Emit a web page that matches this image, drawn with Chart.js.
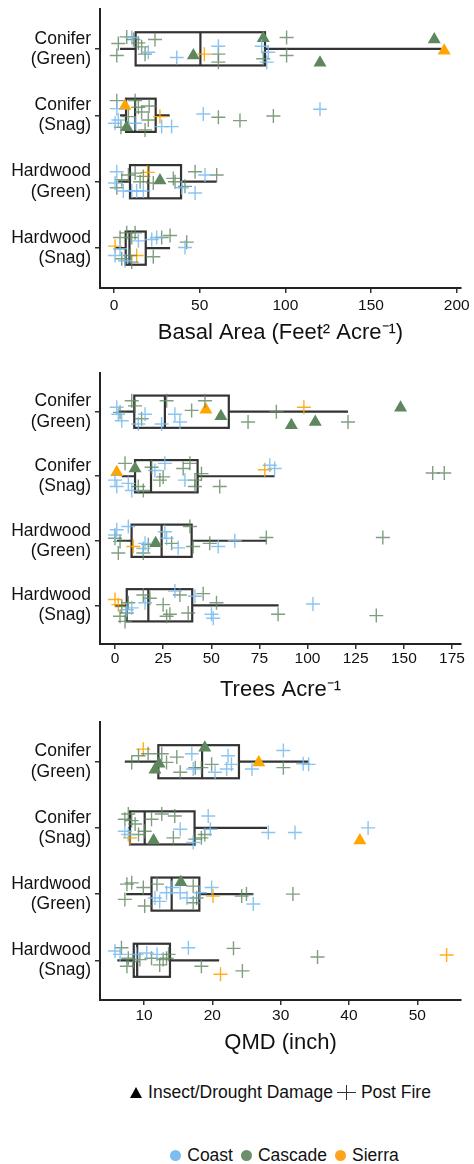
<!DOCTYPE html>
<html>
<head>
<meta charset="utf-8">
<script src="https://cdn.jsdelivr.net/npm/chart.js@4.4.1/dist/chart.umd.min.js"></script>
<style>
  html, body { margin: 0; padding: 0; background: #fff; }
  body { width: 474px; height: 1164px; position: relative; overflow: hidden;
         font-family: "Liberation Sans", Arial, sans-serif; color: #111; }
  .panel { position: absolute; left: 0; width: 474px; }
  .legend { position: absolute; left: 100px; width: 361px; display: flex; justify-content: center;
            align-items: center; font-size: 17.5px; white-space: nowrap; }
  .tri { display: inline-block; width: 0; height: 0; border-left: 6.5px solid transparent;
         border-right: 6.5px solid transparent; border-bottom: 11px solid #000; margin-right: 6px; }
  .plus { display: inline-block; position: relative; width: 19px; height: 15px; margin: 0 5px 0 4px; }
  .plus::before { content: ""; position: absolute; left: 0; top: 7px; width: 19px; height: 1.3px; background: #333; }
  .plus::after { content: ""; position: absolute; left: 9px; top: 0; width: 1.3px; height: 15px; background: #333; }
  .dot { display: inline-block; width: 11px; height: 11px; border-radius: 50%; margin: 0 6px 0 8px; }
</style>
</head>
<body>
<div class="panel" style="top:0;height:350px"><canvas id="chartBA"></canvas></div>
<div class="panel" style="top:360px;height:345px"><canvas id="chartTPA"></canvas></div>
<div class="panel" style="top:710px;height:346px"><canvas id="chartQMD"></canvas></div>

<div class="legend" style="top:1079px;height:26px">
  <span class="tri"></span><span>Insect/Drought Damage</span><span class="plus"></span><span>Post Fire</span>
</div>
<div class="legend" style="top:1142px;height:26px">
  <span class="dot" style="background:#7dbdee"></span><span>Coast</span>
  <span class="dot" style="background:#6a8f6a"></span><span>Cascade</span>
  <span class="dot" style="background:#ffa31a"></span><span>Sierra</span>
</div>

<script>
// カテゴリ（上から順）
const CATEGORIES = ['Conifer (Green)', 'Conifer (Snag)', 'Hardwood (Green)', 'Hardwood (Snag)'];

// 点: [カテゴリ番号, 値, 縦ずれ(カテゴリ単位), 地域 co/ca/si, 被害 f=Post Fire / i=Insect]
// 箱ひげ: [下ひげ, Q1, 中央値, Q3, 上ひげ]

// Basal Area
const BA_TICKS = [0, 50, 100, 150, 200];
const BA_RANGE = [-8.2, 202.5];
const BA_BOX = [
  [3.5, 12.6, 50.4, 88.1, 191],
  [3.5, 7.0, 12.3, 24.3, 32.5],
  [2.4, 9.3, 20.0, 39.1, 59.9],
  [0.5, 6.8, 9.0, 18.5, 32.7]
];
const BA_POINTS = [
  [1, 2.5, -0.08, 'ca', 'f'], [1, 7.4, -0.18, 'ca', 'f'], [1, 10.3, -0.17, 'co', 'f'],
  [1, 11.3, -0.14, 'ca', 'f'], [1, 14.2, -0.09, 'ca', 'f'], [1, 16.1, -0.03, 'ca', 'f'],
  [1, 23.9, -0.14, 'ca', 'f'], [1, 18.1, 0.08, 'ca', 'f'], [1, 20.0, 0.05, 'co', 'f'],
  [1, 1.6, 0.10, 'ca', 'f'], [1, 36.6, 0.13, 'co', 'f'], [1, 46.3, 0.10, 'ca', 'i'],
  [1, 52.7, 0.08, 'si', 'f'], [1, 60.9, -0.04, 'co', 'f'], [1, 60.9, 0.08, 'ca', 'f'],
  [1, 60.9, 0.20, 'ca', 'f'], [1, 87.1, -0.16, 'ca', 'i'], [1, 86.2, -0.04, 'co', 'f'],
  [1, 90.0, 0.05, 'co', 'f'], [1, 87.1, 0.15, 'ca', 'f'], [1, 89.1, 0.20, 'co', 'f'],
  [1, 100.7, -0.17, 'ca', 'f'], [1, 100.7, 0.10, 'ca', 'f'], [1, 120.2, 0.21, 'ca', 'i'],
  [1, 186.9, -0.14, 'ca', 'i'], [1, 192.7, 0.03, 'si', 'i'],

  [2, 1.6, -0.22, 'ca', 'f'], [2, 6.4, -0.14, 'si', 'i'], [2, 12.3, -0.22, 'ca', 'f'],
  [2, 1.6, -0.10, 'co', 'f'], [2, 14.2, -0.12, 'ca', 'f'], [2, 16.1, -0.05, 'ca', 'f'],
  [2, 2.5, 0.07, 'co', 'f'], [2, 8.4, 0.02, 'ca', 'f'], [2, 7.4, 0.18, 'ca', 'i'],
  [2, 12.3, 0.12, 'co', 'f'], [2, 20.0, 0.07, 'ca', 'f'], [2, 18.1, 0.22, 'ca', 'f'],
  [2, 26.8, 0.02, 'si', 'f'], [2, 27.8, 0.17, 'co', 'f'], [2, 33.6, 0.17, 'co', 'f'],
  [2, 52.1, -0.02, 'co', 'f'], [2, 60.9, 0.03, 'ca', 'f'], [2, 73.5, 0.08, 'ca', 'f'],
  [2, 93.0, 0.01, 'ca', 'f'], [2, 120.2, -0.09, 'co', 'f'], [2, 0.6, 0.12, 'co', 'f'],
  [2, 4.0, 0.18, 'ca', 'f'], [2, 20.5, -0.14, 'ca', 'f'],

  [3, 1.6, -0.15, 'co', 'f'], [3, 0.6, 0.02, 'co', 'f'], [3, 4.5, -0.03, 'ca', 'f'],
  [3, 8.4, -0.10, 'ca', 'f'], [3, 12.3, -0.13, 'ca', 'f'], [3, 15.2, 0.00, 'ca', 'f'],
  [3, 17.1, -0.08, 'ca', 'f'], [3, 1.6, 0.09, 'ca', 'f'], [3, 5.4, 0.14, 'co', 'f'],
  [3, 10.3, 0.14, 'co', 'f'], [3, 13.2, 0.14, 'co', 'f'], [3, 17.1, 0.14, 'co', 'f'],
  [3, 19.6, -0.14, 'si', 'f'], [3, 26.8, -0.02, 'ca', 'i'], [3, 22.9, 0.02, 'ca', 'f'],
  [3, 34.6, -0.05, 'ca', 'f'], [3, 35.6, 0.00, 'ca', 'f'], [3, 39.5, 0.09, 'co', 'f'],
  [3, 47.3, 0.17, 'co', 'f'], [3, 47.3, -0.15, 'ca', 'f'], [3, 53.1, -0.10, 'co', 'f'],
  [3, 59.9, -0.10, 'ca', 'f'], [3, 41.4, 0.07, 'ca', 'f'],

  [4, 0.6, -0.03, 'si', 'f'], [4, 13.2, 0.11, 'si', 'f'], [4, 3.5, -0.16, 'ca', 'f'],
  [4, 7.4, -0.23, 'ca', 'f'], [4, 10.3, -0.16, 'ca', 'f'], [4, 12.3, -0.23, 'ca', 'f'],
  [4, 9.3, 0.11, 'ca', 'f'], [4, 4.5, 0.16, 'ca', 'f'], [4, 0.6, 0.11, 'co', 'f'],
  [4, 3.5, 0.01, 'co', 'f'], [4, 14.2, -0.11, 'co', 'f'], [4, 22.0, -0.13, 'co', 'f'],
  [4, 24.9, -0.16, 'co', 'f'], [4, 27.8, -0.16, 'ca', 'f'], [4, 32.7, -0.19, 'ca', 'f'],
  [4, 41.4, -0.01, 'co', 'f'], [4, 42.4, -0.09, 'ca', 'f'], [4, 22.9, 0.13, 'ca', 'f'],
  [4, 10.3, 0.21, 'ca', 'f'], [4, 6.4, 0.19, 'co', 'f']
];

// Trees per acre
const TPA_TICKS = [0, 25, 50, 75, 100, 125, 150, 175];
const TPA_RANGE = [-7.8, 179.7];
const TPA_BOX = [
  [1.7, 10.0, 25.9, 59.1, 121],
  [3.5, 10.4, 18.7, 42.9, 82.9],
  [1.0, 8.6, 24.2, 39.8, 78.6],
  [0.0, 6.1, 17.3, 40.1, 85.0]
];
const TPA_POINTS = [
  [1, 0.9, -0.07, 'co', 'f'], [1, 1.7, 0.04, 'co', 'f'], [1, 3.5, 0.14, 'co', 'f'],
  [1, 2.6, 0.01, 'ca', 'f'], [1, 8.7, -0.17, 'ca', 'f'], [1, 10.4, -0.09, 'ca', 'f'],
  [1, 12.1, 0.19, 'co', 'f'], [1, 15.6, 0.04, 'co', 'f'], [1, 13.8, 0.11, 'ca', 'f'],
  [1, 24.2, 0.19, 'co', 'f'], [1, 26.8, -0.17, 'ca', 'f'], [1, 31.1, 0.04, 'co', 'f'],
  [1, 33.7, 0.16, 'co', 'f'], [1, 39.8, -0.02, 'ca', 'f'], [1, 46.7, -0.17, 'ca', 'f'],
  [1, 47.2, -0.03, 'si', 'i'], [1, 55.0, 0.07, 'ca', 'i'], [1, 69.1, 0.16, 'ca', 'f'],
  [1, 83.8, 0.00, 'ca', 'f'], [1, 98.1, -0.07, 'si', 'f'], [1, 91.6, 0.21, 'ca', 'i'],
  [1, 104.0, 0.16, 'ca', 'i'], [1, 121.0, 0.16, 'ca', 'f'], [1, 148.3, -0.06, 'ca', 'i'],

  [2, 0.9, -0.06, 'si', 'i'], [2, 10.4, -0.12, 'ca', 'i'], [2, 0.0, 0.06, 'co', 'f'],
  [2, 0.9, 0.16, 'co', 'f'], [2, 6.9, 0.11, 'co', 'f'], [2, 8.7, 0.22, 'co', 'f'],
  [2, 5.2, -0.20, 'ca', 'f'], [2, 12.1, 0.16, 'ca', 'f'], [2, 14.7, 0.22, 'ca', 'f'],
  [2, 19.0, -0.14, 'ca', 'f'], [2, 25.0, 0.01, 'ca', 'f'], [2, 23.3, 0.06, 'ca', 'f'],
  [2, 25.9, -0.20, 'co', 'f'], [2, 20.7, -0.09, 'co', 'f'], [2, 35.4, -0.12, 'ca', 'f'],
  [2, 38.9, -0.20, 'ca', 'f'], [2, 41.5, 0.06, 'ca', 'f'], [2, 41.5, 0.16, 'ca', 'f'],
  [2, 44.9, -0.04, 'ca', 'f'], [2, 36.3, 0.06, 'co', 'f'], [2, 54.4, 0.16, 'ca', 'f'],
  [2, 77.8, -0.10, 'si', 'f'], [2, 80.4, -0.17, 'co', 'f'], [2, 82.9, -0.12, 'co', 'f'],
  [2, 165.0, -0.05, 'ca', 'f'], [2, 171.0, -0.05, 'ca', 'f'],

  [3, 0.9, -0.17, 'co', 'f'], [3, 0.0, -0.09, 'co', 'f'], [3, 6.9, -0.22, 'co', 'f'],
  [3, 0.0, -0.04, 'ca', 'f'], [3, 2.6, 0.01, 'ca', 'f'], [3, 1.7, 0.19, 'ca', 'f'],
  [3, 9.5, 0.09, 'si', 'f'], [3, 14.7, 0.19, 'ca', 'f'], [3, 17.3, 0.06, 'ca', 'f'],
  [3, 15.6, 0.04, 'co', 'f'], [3, 14.7, 0.12, 'co', 'f'], [3, 21.1, 0.04, 'ca', 'i'],
  [3, 25.9, -0.14, 'co', 'f'], [3, 26.8, -0.04, 'co', 'f'], [3, 32.8, 0.11, 'co', 'f'],
  [3, 29.4, 0.04, 'ca', 'f'], [3, 38.9, -0.22, 'ca', 'f'], [3, 40.6, 0.09, 'ca', 'f'],
  [3, 49.2, 0.04, 'ca', 'f'], [3, 53.6, 0.09, 'co', 'f'], [3, 62.2, 0.00, 'co', 'f'],
  [3, 78.6, -0.05, 'ca', 'f'], [3, 139.1, -0.05, 'ca', 'f'],

  [4, 0.0, -0.09, 'si', 'f'], [4, 1.7, -0.01, 'si', 'f'], [4, 3.5, 0.02, 'ca', 'f'],
  [4, 6.1, 0.12, 'ca', 'f'], [4, 6.9, -0.04, 'ca', 'f'], [4, 2.6, 0.17, 'ca', 'f'],
  [4, 5.2, 0.25, 'ca', 'f'], [4, 6.1, 0.07, 'co', 'f'], [4, 8.7, 0.04, 'co', 'f'],
  [4, 14.7, -0.16, 'ca', 'f'], [4, 18.1, -0.11, 'ca', 'f'], [4, 15.6, -0.04, 'co', 'f'],
  [4, 25.0, -0.01, 'ca', 'f'], [4, 26.8, 0.17, 'ca', 'f'], [4, 28.5, 0.14, 'ca', 'f'],
  [4, 31.1, -0.22, 'co', 'f'], [4, 33.7, -0.16, 'ca', 'f'], [4, 41.5, -0.14, 'co', 'f'],
  [4, 45.8, -0.18, 'ca', 'f'], [4, 52.7, -0.04, 'ca', 'f'], [4, 38.0, 0.12, 'ca', 'f'],
  [4, 50.1, 0.14, 'co', 'f'], [4, 51.0, 0.20, 'co', 'f'], [4, 84.7, 0.14, 'ca', 'f'],
  [4, 102.8, -0.02, 'co', 'f'], [4, 135.7, 0.16, 'ca', 'f']
];

// QMD
const QMD_TICKS = [10, 20, 30, 40, 50];
const QMD_RANGE = [3.56, 56.4];
const QMD_BOX = [
  [7.2, 12.1, 18.5, 23.9, 34.1],
  [7.7, 7.95, 10.1, 17.4, 28.0],
  [7.4, 11.1, 14.05, 18.1, 26.0],
  [6.1, 8.5, 9.0, 13.8, 21.0]
];
const QMD_POINTS = [
  [1, 9.9, -0.19, 'si', 'f'], [1, 8.2, 0.01, 'ca', 'f'], [1, 9.2, -0.09, 'ca', 'f'],
  [1, 10.6, -0.12, 'ca', 'f'], [1, 12.6, -0.12, 'ca', 'f'], [1, 13.3, 0.01, 'ca', 'f'],
  [1, 14.8, -0.07, 'ca', 'f'], [1, 15.3, 0.16, 'ca', 'f'], [1, 11.6, 0.12, 'ca', 'i'],
  [1, 12.2, 0.03, 'ca', 'i'], [1, 17.0, -0.12, 'co', 'f'], [1, 17.2, 0.11, 'co', 'f'],
  [1, 17.5, 0.09, 'ca', 'f'], [1, 18.4, 0.09, 'ca', 'f'], [1, 19.9, 0.04, 'ca', 'f'],
  [1, 18.9, -0.21, 'ca', 'i'], [1, 22.3, -0.09, 'co', 'f'], [1, 20.4, 0.16, 'co', 'f'],
  [1, 22.1, 0.11, 'co', 'f'], [1, 22.8, 0.04, 'co', 'f'], [1, 26.8, 0.01, 'si', 'i'],
  [1, 25.8, 0.11, 'co', 'f'], [1, 30.4, 0.09, 'ca', 'f'], [1, 30.4, -0.17, 'co', 'f'],
  [1, 33.3, 0.03, 'co', 'f'], [1, 34.1, 0.04, 'co', 'f'],

  [2, 7.2, -0.13, 'ca', 'f'], [2, 7.7, -0.21, 'ca', 'f'], [2, 8.2, -0.11, 'ca', 'f'],
  [2, 8.7, -0.06, 'ca', 'f'], [2, 7.2, 0.05, 'co', 'f'], [2, 7.7, 0.10, 'co', 'f'],
  [2, 7.95, 0.15, 'si', 'f'], [2, 9.2, 0.10, 'ca', 'f'], [2, 10.1, 0.05, 'ca', 'f'],
  [2, 11.1, -0.13, 'ca', 'f'], [2, 12.6, -0.21, 'ca', 'f'], [2, 14.5, -0.18, 'ca', 'f'],
  [2, 11.4, 0.19, 'ca', 'i'], [2, 15.3, 0.02, 'co', 'f'], [2, 14.3, 0.15, 'ca', 'f'],
  [2, 19.4, -0.18, 'co', 'f'], [2, 17.5, 0.17, 'ca', 'f'], [2, 18.4, 0.15, 'ca', 'f'],
  [2, 18.9, 0.10, 'ca', 'f'], [2, 17.2, 0.22, 'co', 'f'], [2, 19.7, 0.02, 'co', 'f'],
  [2, 28.2, 0.07, 'co', 'f'], [2, 32.1, 0.07, 'co', 'f'], [2, 41.6, 0.19, 'si', 'i'],
  [2, 42.8, 0.00, 'co', 'f'],

  [3, 7.5, -0.15, 'ca', 'f'], [3, 8.2, -0.17, 'ca', 'f'], [3, 9.9, -0.10, 'ca', 'f'],
  [3, 7.2, 0.08, 'ca', 'f'], [3, 10.1, 0.18, 'ca', 'f'], [3, 11.9, -0.15, 'ca', 'f'],
  [3, 11.6, 0.06, 'co', 'f'], [3, 12.3, 0.11, 'co', 'f'], [3, 13.3, -0.02, 'co', 'f'],
  [3, 14.1, -0.10, 'co', 'f'], [3, 15.3, -0.02, 'co', 'f'], [3, 15.4, -0.18, 'ca', 'i'],
  [3, 17.2, -0.12, 'ca', 'f'], [3, 17.7, 0.06, 'ca', 'f'], [3, 17.2, 0.13, 'ca', 'f'],
  [3, 16.3, 0.06, 'co', 'f'], [3, 18.2, -0.02, 'co', 'f'], [3, 19.9, -0.10, 'co', 'f'],
  [3, 20.1, 0.03, 'si', 'f'], [3, 24.3, 0.03, 'ca', 'f'], [3, 25.0, 0.00, 'ca', 'f'],
  [3, 26.0, 0.15, 'co', 'f'], [3, 31.8, 0.00, 'ca', 'f'],

  [4, 5.75, -0.14, 'co', 'f'], [4, 6.5, -0.09, 'co', 'f'], [4, 6.7, -0.19, 'ca', 'f'],
  [4, 7.7, -0.03, 'ca', 'f'], [4, 7.5, 0.09, 'ca', 'f'], [4, 8.4, 0.02, 'ca', 'f'],
  [4, 8.9, -0.09, 'co', 'f'], [4, 10.4, -0.11, 'co', 'f'], [4, 9.4, -0.01, 'ca', 'f'],
  [4, 11.1, -0.03, 'ca', 'f'], [4, 11.9, -0.09, 'co', 'f'], [4, 12.3, 0.07, 'ca', 'f'],
  [4, 12.8, -0.01, 'ca', 'f'], [4, 13.3, -0.03, 'ca', 'f'], [4, 13.6, -0.09, 'ca', 'f'],
  [4, 16.5, -0.19, 'co', 'f'], [4, 18.4, 0.09, 'ca', 'f'], [4, 21.2, 0.21, 'si', 'f'],
  [4, 23.1, -0.18, 'ca', 'f'], [4, 24.4, 0.16, 'ca', 'f'], [4, 35.4, -0.05, 'ca', 'f'],
  [4, 54.3, -0.08, 'si', 'f']
];

const FONT = '"Liberation Sans", Arial, sans-serif';
const CROSS_COLORS = { co: 'rgba(120,186,238,0.85)', ca: 'rgba(96,134,96,0.8)', si: 'rgba(255,165,0,0.9)' };
const TRI_COLORS = { co: '#78b9ec', ca: '#5e875e', si: '#ffa500' };

Chart.defaults.font.family = FONT;
Chart.defaults.color = '#111';

// 箱ひげを描くプラグイン
const boxPlugin = {
  id: 'boxes',
  beforeDatasetsDraw(chart, args, opts) {
    const { ctx, scales: { x, y } } = chart;
    ctx.save();
    ctx.strokeStyle = '#333';
    ctx.lineWidth = 2.2;
    opts.stats.forEach((s, i) => {
      const c = i + 1;
      const yc = y.getPixelForValue(c);
      const yt = y.getPixelForValue(c - 0.25);
      const yb = y.getPixelForValue(c + 0.25);
      const [lo, q1, med, q3, hi] = s.map(v => x.getPixelForValue(v));
      ctx.beginPath();
      ctx.moveTo(lo, yc); ctx.lineTo(q1, yc);
      ctx.moveTo(q3, yc); ctx.lineTo(hi, yc);
      ctx.stroke();
      ctx.strokeRect(q1, yt, q3 - q1, yb - yt);
      ctx.beginPath();
      ctx.moveTo(med, yt); ctx.lineTo(med, yb);
      ctx.stroke();
    });
    ctx.restore();
  }
};

function buildDatasets(points) {
  const sets = [];
  ['f', 'i'].forEach(dmg => {
    ['co', 'ca', 'si'].forEach(reg => {
      const data = points.filter(p => p[3] === reg && p[4] === dmg)
                         .map(p => ({ x: p[1], y: p[0] + p[2] }));
      if (!data.length) return;
      if (dmg === 'f') {
        sets.push({ data, pointStyle: 'cross', pointRadius: 7, pointBorderWidth: 1.4,
                    borderColor: CROSS_COLORS[reg], backgroundColor: CROSS_COLORS[reg] });
      } else {
        sets.push({ data, pointStyle: 'triangle', pointRadius: 7.5, pointBorderWidth: 0,
                    borderColor: TRI_COLORS[reg], backgroundColor: TRI_COLORS[reg] });
      }
    });
  });
  return sets;
}

function makeChart(id, cfg) {
  return new Chart(document.getElementById(id), {
    type: 'scatter',
    data: { datasets: buildDatasets(cfg.points) },
    options: {
      responsive: true,
      maintainAspectRatio: false,
      animation: false,
      events: [],
      layout: { padding: { top: cfg.padTop, right: 13, left: 0, bottom: 0 } },
      plugins: { legend: { display: false }, tooltip: { enabled: false }, boxes: { stats: cfg.box } },
      scales: {
        x: {
          type: 'linear', min: cfg.range[0], max: cfg.range[1],
          afterBuildTicks: s => { s.ticks = cfg.ticks.map(v => ({ value: v })); },
          afterFit: s => { s.height = cfg.xHeight; s.paddingLeft = 0; s.paddingRight = 0; },
          ticks: { font: { size: 15.5 }, color: '#111', padding: cfg.tickPad, maxRotation: 0, autoSkip: false },
          grid: { drawOnChartArea: false, drawTicks: true, tickLength: 5, color: '#333', lineWidth: 1.5 },
          border: { display: true, color: '#222', width: 2 },
          title: { display: true, text: cfg.title, font: { size: 22 }, color: '#111',
                   padding: { top: 0, bottom: cfg.titlePad } }
        },
        y: {
          type: 'linear', min: 0.4, max: 4.6, reverse: true,
          afterBuildTicks: s => { s.ticks = CATEGORIES.map((c, i) => ({ value: i + 1 })); },
          afterFit: s => { s.width = 100; s.paddingTop = 0; s.paddingBottom = 0; },
          ticks: { callback: v => CATEGORIES[v - 1].split(' '), font: { size: 17.5, lineHeight: 1.15 },
                   color: '#111', padding: 4 },
          grid: { drawOnChartArea: false, drawTicks: true, tickLength: 5, color: '#333', lineWidth: 1.5 },
          border: { display: true, color: '#222', width: 2 }
        }
      }
    },
    plugins: [boxPlugin]
  });
}

makeChart('chartBA', { points: BA_POINTS, box: BA_BOX, ticks: BA_TICKS, range: BA_RANGE,
  title: 'Basal Area (Feet\u00B2 Acre\u207B\u00B9)', padTop: 9, xHeight: 62, tickPad: 3.5, titlePad: 4 });
makeChart('chartTPA', { points: TPA_POINTS, box: TPA_BOX, ticks: TPA_TICKS, range: TPA_RANGE,
  title: 'Trees Acre\u207B\u00B9', padTop: 13, xHeight: 61, tickPad: 0, titlePad: 2 });
makeChart('chartQMD', { points: QMD_POINTS, box: QMD_BOX, ticks: QMD_TICKS, range: QMD_RANGE,
  title: 'QMD (inch)', padTop: 12, xHeight: 56, tickPad: 1, titlePad: 0 });
</script>
</body>
</html>
